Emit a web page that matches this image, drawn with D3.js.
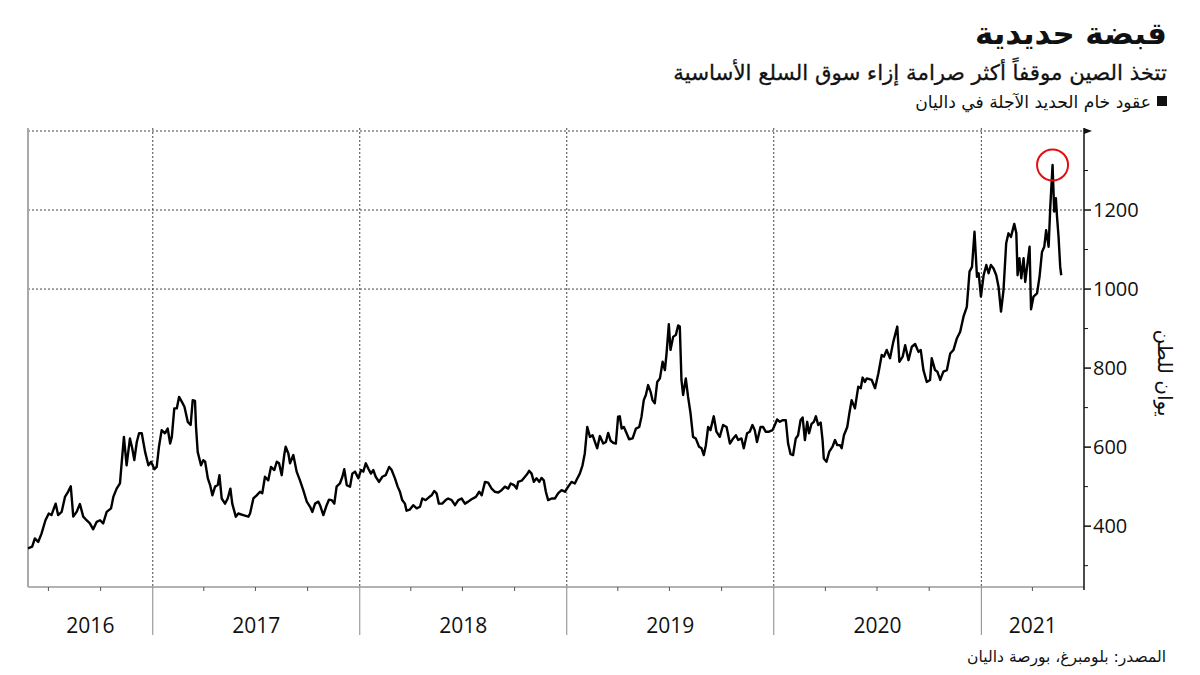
<!DOCTYPE html>
<html><head><meta charset="utf-8">
<script src="https://cdn.jsdelivr.net/npm/d3@7"></script>
<style>
html,body{margin:0;padding:0;background:#fff;}
svg{display:block;}
text{font-family:"DejaVu Sans","Noto Sans",sans-serif;}
.num{font-family:"Open Sans","Noto Sans",sans-serif;}
</style></head>
<body>
<svg id="chart" width="1200" height="675"></svg>
<script>
// ---- DATA ----
const titleText = "قبضة حديدية";
const subtitleText = "تتخذ الصين موقفاً أكثر صرامة إزاء سوق السلع الأساسية";
const legendText = "عقود خام الحديد الآجلة في داليان";
const sourceText = "المصدر: بلومبرغ، بورصة داليان";
const yAxisTitle = "يوان للطن";
const yearLabels = ["2016","2017","2018","2019","2020","2021"];
const yMajorTicks = [400, 600, 800, 1000, 1200];
const yMinorTicks = [300, 500, 700, 900, 1100, 1300];
const yGridValues = [1000, 1200, 1400];
// decimal-year time stamps of the Dalian iron ore futures series
const times = [
2016.399,2016.419,2016.432,2016.448,2016.464,2016.483,2016.499,2016.512,2016.532,2016.544,
2016.561,2016.577,2016.592,2016.605,2016.617,2016.633,2016.649,2016.665,2016.681,2016.697,
2016.713,2016.730,2016.746,2016.761,2016.778,2016.799,2016.810,2016.826,2016.842,2016.850,
2016.861,2016.874,2016.890,2016.901,2016.911,2016.923,2016.934,2016.947,2016.963,2016.979,
2016.992,2017.008,2017.019,2017.030,2017.043,2017.059,2017.072,2017.084,2017.092,2017.104,
2017.116,2017.127,2017.140,2017.153,2017.169,2017.183,2017.193,2017.204,2017.209,2017.217,
2017.233,2017.244,2017.253,2017.266,2017.277,2017.288,2017.301,2017.314,2017.322,2017.333,
2017.349,2017.362,2017.375,2017.384,2017.401,2017.413,2017.437,2017.462,2017.470,2017.486,
2017.502,2017.518,2017.529,2017.542,2017.558,2017.571,2017.587,2017.599,2017.610,2017.623,
2017.635,2017.642,2017.655,2017.663,2017.679,2017.695,2017.711,2017.727,2017.744,2017.760,
2017.771,2017.784,2017.800,2017.808,2017.824,2017.840,2017.851,2017.864,2017.877,2017.888,
2017.904,2017.916,2017.925,2017.937,2017.953,2017.964,2017.977,2017.993,2018.006,2018.017,
2018.029,2018.041,2018.054,2018.065,2018.077,2018.093,2018.109,2018.125,2018.142,2018.154,
2018.170,2018.183,2018.194,2018.205,2018.218,2018.226,2018.242,2018.258,2018.275,2018.291,
2018.302,2018.318,2018.334,2018.347,2018.360,2018.371,2018.382,2018.398,2018.415,2018.427,
2018.444,2018.460,2018.476,2018.492,2018.508,2018.524,2018.540,2018.561,2018.577,2018.589,
2018.605,2018.620,2018.637,2018.653,2018.669,2018.685,2018.701,2018.717,2018.729,2018.745,
2018.758,2018.765,2018.782,2018.798,2018.809,2018.818,2018.830,2018.841,2018.854,2018.867,
2018.878,2018.889,2018.899,2018.910,2018.927,2018.943,2018.958,2018.975,2018.991,2019.007,
2019.023,2019.039,2019.050,2019.063,2019.076,2019.087,2019.099,2019.112,2019.125,2019.136,
2019.147,2019.160,2019.176,2019.189,2019.200,2019.212,2019.224,2019.237,2019.248,2019.256,
2019.265,2019.276,2019.289,2019.301,2019.318,2019.334,2019.350,2019.361,2019.372,2019.382,
2019.393,2019.405,2019.414,2019.425,2019.437,2019.450,2019.463,2019.474,2019.482,2019.493,
2019.501,2019.514,2019.527,2019.538,2019.546,2019.554,2019.562,2019.575,2019.586,2019.598,
2019.610,2019.623,2019.639,2019.651,2019.662,2019.672,2019.683,2019.694,2019.710,2019.723,
2019.739,2019.755,2019.772,2019.788,2019.804,2019.817,2019.828,2019.844,2019.855,2019.871,
2019.884,2019.897,2019.908,2019.919,2019.936,2019.948,2019.961,2019.977,2019.994,2020.005,
2020.016,2020.029,2020.042,2020.058,2020.069,2020.081,2020.093,2020.106,2020.117,2020.129,
2020.139,2020.150,2020.161,2020.170,2020.182,2020.193,2020.203,2020.214,2020.226,2020.235,
2020.241,2020.254,2020.267,2020.283,2020.295,2020.306,2020.319,2020.327,2020.338,2020.354,
2020.364,2020.375,2020.391,2020.407,2020.419,2020.428,2020.439,2020.448,2020.472,2020.488,
2020.504,2020.520,2020.531,2020.544,2020.560,2020.576,2020.595,2020.605,2020.621,2020.633,
2020.649,2020.665,2020.681,2020.697,2020.708,2020.721,2020.737,2020.753,2020.761,2020.777,
2020.788,2020.802,2020.817,2020.834,2020.850,2020.866,2020.882,2020.898,2020.914,2020.930,
2020.943,2020.955,2020.967,2020.979,2020.987,2020.998,2021.011,2021.024,2021.035,2021.046,
2021.059,2021.072,2021.083,2021.095,2021.107,2021.120,2021.131,2021.143,2021.159,2021.169,
2021.175,2021.184,2021.193,2021.204,2021.212,2021.223,2021.233,2021.240,2021.252,2021.269,
2021.281,2021.293,2021.304,2021.313,2021.325,2021.333,2021.344,2021.352,2021.360,2021.365,
2021.373,2021.381,2021.386
];
// prices, yuan per ton
const prices = [
344,348,369,360,381,415,432,428,457,428,
436,474,487,501,424,436,456,424,415,407,
392,411,415,407,436,445,474,495,508,559,
626,554,622,597,567,613,635,635,588,554,
563,544,550,601,643,635,647,609,626,698,
698,727,715,702,664,656,719,717,651,588,
554,567,563,521,504,478,500,504,529,470,
457,470,495,457,424,432,428,424,432,470,
478,487,483,525,516,550,542,563,559,529,
580,601,584,559,580,538,516,491,462,449,
436,457,462,453,428,453,467,466,457,500,
508,525,544,504,500,533,538,521,542,538,
559,546,533,542,525,512,525,529,550,542,
521,500,487,466,457,439,442,453,445,449,
470,466,473,478,489,483,457,457,466,470,
466,453,466,470,457,462,468,474,487,478,
512,510,495,487,485,491,500,495,508,504,
495,512,515,525,532,540,533,512,521,512,
522,516,487,466,470,470,483,491,487,500,
512,508,520,533,554,584,651,626,630,613,
597,628,609,613,636,616,611,609,677,678,
647,651,635,620,622,647,651,677,719,732,
757,740,719,711,765,774,816,795,837,911,
846,879,884,908,905,770,732,774,727,685,
626,622,601,597,580,605,651,643,678,639,
626,656,651,609,622,630,618,622,597,635,
639,656,643,613,651,651,639,639,643,656,
670,664,668,668,609,582,580,622,630,668,
675,618,664,635,659,664,678,656,662,618,
571,563,588,601,618,605,605,597,630,651,
685,719,698,753,749,776,765,774,770,749,
787,833,829,846,825,867,905,816,829,858,
820,854,861,841,846,795,765,770,825,795,
791,770,791,795,837,846,875,892,930,955,
1044,1056,1145,1031,1040,981,1035,1061,1040,1061,
1052,1035,1006,943,997,1116,1141,1132,1165,1141,
1035,1078,1027,1078,1018,1065,1107,949,981,989,
1031,1094,1107,1149,1107,1208,1314,1196,1230,1187,
1132,1056,1035
];
const domainStart = "2016-05-26";
const domainEnd = "2021-07-01";

// ---- HELPERS ----
function decToDate(t){
  const yr = Math.floor(t);
  const s = Date.UTC(yr,0,1), e = Date.UTC(yr+1,0,1);
  return new Date(s + (t - yr) * (e - s));
}
const n = Math.min(times.length, prices.length);
const data = d3.range(n).map(i=>({date: decToDate(times[i]), value: prices[i]}));

const svg = d3.select("#chart");
const pLeft = 28, pRight = 1084, pTop = 131, pBottom = 587;

const x = d3.scaleUtc().domain([new Date(domainStart), new Date(domainEnd)]).range([pLeft, pRight]);
const y = d3.scaleLinear().domain([246, 1400]).range([pBottom, pTop]);

function fitText(sel, target){
  const node = sel.node();
  const fs = parseFloat(sel.attr("font-size"));
  const w = node.getComputedTextLength();
  if (w > 0) sel.attr("font-size", (fs * target / w).toFixed(2));
}

// ---- TITLES ----
const title = svg.append("text").attr("x", 1167).attr("y", 44).attr("text-anchor","start")
  .attr("direction","rtl").attr("font-size", 30).attr("font-weight","bold").attr("fill","#111").text(titleText);
fitText(title, 192);
const sub = svg.append("text").attr("x", 1167).attr("y", 80).attr("direction","rtl")
  .attr("text-anchor","start").attr("font-size", 22).attr("fill","#111")
  .attr("stroke","#111").attr("stroke-width",0.3).text(subtitleText);
fitText(sub, 494);
svg.append("rect").attr("x",1157).attr("y",96).attr("width",10).attr("height",10).attr("fill","#111");
const leg = svg.append("text").attr("x", 1151).attr("y", 108).attr("direction","rtl")
  .attr("text-anchor","start").attr("font-size", 16).attr("fill","#111").text(legendText);
fitText(leg, 236);

// ---- GRID ----
const years = d3.utcYear.range(d3.utcYear.ceil(x.domain()[0]), x.domain()[1]);
svg.append("g").selectAll("line").data(years).join("line")
  .attr("x1", d=>x(d)).attr("x2", d=>x(d)).attr("y1", 128).attr("y2", pBottom)
  .attr("stroke","#444").attr("stroke-width",1).attr("stroke-dasharray","2,2");
svg.append("g").selectAll("line").data(yGridValues).join("line")
  .attr("x1", pLeft).attr("x2", pRight).attr("y1", d=>y(d)).attr("y2", d=>y(d))
  .attr("stroke","#444").attr("stroke-width",1).attr("stroke-dasharray","2,2");

// ---- X AXIS ----
svg.append("line").attr("x1", pLeft).attr("x2", pRight).attr("y1", pBottom).attr("y2", pBottom)
  .attr("stroke","#999").attr("stroke-width",1.5);
svg.append("line").attr("x1", pLeft).attr("x2", pLeft).attr("y1", 128).attr("y2", pBottom)
  .attr("stroke","#aaa").attr("stroke-width",2);
const quarters = d3.utcMonth.every(3).range(x.domain()[0], x.domain()[1]).filter(d=>d.getUTCMonth()!==0);
svg.append("g").selectAll("line").data(quarters).join("line")
  .attr("x1", d=>x(d)).attr("x2", d=>x(d)).attr("y1", pBottom).attr("y2", pBottom+4)
  .attr("stroke","#555").attr("stroke-width",1);
svg.append("g").selectAll("line").data(years).join("line")
  .attr("x1", d=>x(d)).attr("x2", d=>x(d)).attr("y1", pBottom).attr("y2", 635)
  .attr("stroke","#888").attr("stroke-width",1);
const bounds = [x.domain()[0], ...years, x.domain()[1]];
svg.append("g").selectAll("text").data(yearLabels).join("text").attr("class","num")
  .attr("x", (d,i)=>(x(bounds[i]) + x(bounds[i+1]))/2).attr("y", 633)
  .attr("text-anchor","middle").attr("font-size", 21).attr("fill","#111").text(d=>d);

// ---- Y AXIS (right) ----
svg.append("line").attr("x1", pRight).attr("x2", pRight).attr("y1", 128).attr("y2", pBottom+3)
  .attr("stroke","#111").attr("stroke-width",1.5);
svg.append("g").selectAll("line").data(yMajorTicks).join("line")
  .attr("x1", pRight).attr("x2", pRight+7).attr("y1", d=>y(d)).attr("y2", d=>y(d))
  .attr("stroke","#111").attr("stroke-width",1.5);
svg.append("g").selectAll("line").data(yMinorTicks).join("line")
  .attr("x1", pRight).attr("x2", pRight+4).attr("y1", d=>y(d)).attr("y2", d=>y(d))
  .attr("stroke","#111").attr("stroke-width",1);
svg.append("path").attr("d", `M${pRight},${y(1400)-3}L${pRight+8},${y(1400)}L${pRight},${y(1400)+3}Z`).attr("fill","#111");
svg.append("g").selectAll("text").data(yMajorTicks).join("text").attr("class","num")
  .attr("x", pRight+9).attr("y", d=>y(d)).attr("dy","0.36em")
  .attr("font-size", 20).attr("fill","#111").text(d=>d);
const yl = svg.append("text").attr("transform","translate(1158,373) rotate(90)")
  .attr("text-anchor","middle").attr("font-size", 17).attr("fill","#111").text(yAxisTitle);
fitText(yl, 87);

// ---- LINE ----
svg.append("path").datum(data)
  .attr("d", d3.line().x(d=>x(d.date)).y(d=>y(d.value)))
  .attr("fill","none").attr("stroke","#000").attr("stroke-width",2.4).attr("stroke-linejoin","round");

// peak highlight
const peak = data.reduce((a,b)=> b.value > a.value ? b : a);
svg.append("circle").attr("cx", x(peak.date)).attr("cy", y(peak.value)).attr("r", 15.5)
  .attr("fill","none").attr("stroke","#e01010").attr("stroke-width",2);

// ---- SOURCE ----
const src = svg.append("text").attr("x", 1166).attr("y", 662).attr("direction","rtl")
  .attr("text-anchor","start").attr("font-size", 16).attr("fill","#111").text(sourceText);
fitText(src, 199);
</script>
</body></html>
